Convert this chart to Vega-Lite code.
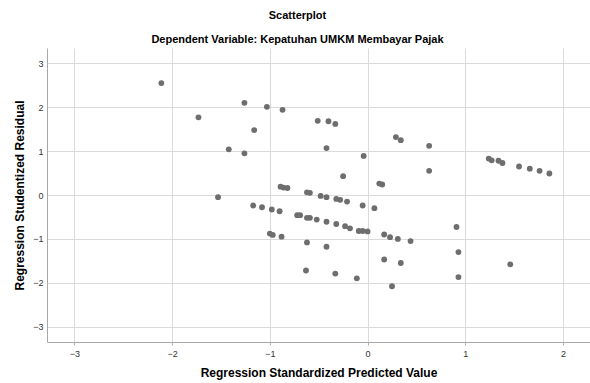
{
  "$schema": "https://vega.github.io/schema/vega-lite/v6.json",
  "autosize": {"type": "none"},
  "width": 543,
  "height": 294,
  "padding": {"left": 47, "top": 48, "right": 0, "bottom": 41},
  "background": "white",
  "title": {
    "text": "Scatterplot",
    "subtitle": "Dependent Variable: Kepatuhan UMKM Membayar Pajak",
    "font": "Liberation Sans",
    "fontSize": 11,
    "fontWeight": "bold",
    "subtitleFont": "Liberation Sans",
    "subtitleFontSize": 11,
    "subtitleFontWeight": "bold",
    "subtitleColor": "black",
    "color": "black",
    "subtitlePadding": 13,
    "offset": 3,
    "anchor": "middle",
    "dx": -21
  },
  "data": {
    "values": [
      {"pred": -2.11, "resid": 2.55},
      {"pred": -1.73, "resid": 1.77},
      {"pred": -1.42, "resid": 1.04},
      {"pred": -1.53, "resid": -0.05},
      {"pred": -1.26, "resid": 2.10},
      {"pred": -1.03, "resid": 2.01},
      {"pred": -0.87, "resid": 1.94},
      {"pred": -0.51, "resid": 1.69},
      {"pred": -0.40, "resid": 1.68},
      {"pred": -0.33, "resid": 1.62},
      {"pred": -1.16, "resid": 1.48},
      {"pred": -1.26, "resid": 0.95},
      {"pred": -0.42, "resid": 1.07},
      {"pred": -0.04, "resid": 0.89},
      {"pred": 0.29, "resid": 1.32},
      {"pred": 0.34, "resid": 1.25},
      {"pred": 0.63, "resid": 1.12},
      {"pred": 0.63, "resid": 0.55},
      {"pred": -0.25, "resid": 0.43},
      {"pred": 0.12, "resid": 0.26},
      {"pred": 0.15, "resid": 0.24},
      {"pred": -0.89, "resid": 0.19},
      {"pred": -0.86, "resid": 0.17},
      {"pred": -0.82, "resid": 0.16},
      {"pred": -0.62, "resid": 0.06},
      {"pred": -0.59, "resid": 0.05},
      {"pred": -0.48, "resid": -0.02},
      {"pred": -0.42, "resid": -0.05},
      {"pred": -0.32, "resid": -0.09},
      {"pred": -0.28, "resid": -0.11},
      {"pred": -0.21, "resid": -0.15},
      {"pred": -0.05, "resid": -0.24},
      {"pred": 0.07, "resid": -0.30},
      {"pred": -1.17, "resid": -0.24},
      {"pred": -1.08, "resid": -0.28},
      {"pred": -0.98, "resid": -0.33},
      {"pred": -0.90, "resid": -0.37},
      {"pred": -0.72, "resid": -0.46},
      {"pred": -0.69, "resid": -0.46},
      {"pred": -0.62, "resid": -0.52},
      {"pred": -0.59, "resid": -0.52},
      {"pred": -0.52, "resid": -0.56},
      {"pred": -0.42, "resid": -0.61},
      {"pred": -0.32, "resid": -0.66},
      {"pred": -0.23, "resid": -0.71},
      {"pred": -0.18, "resid": -0.76},
      {"pred": -0.09, "resid": -0.82},
      {"pred": -0.05, "resid": -0.82},
      {"pred": 0.00, "resid": -0.83},
      {"pred": 0.17, "resid": -0.90},
      {"pred": 0.23, "resid": -0.96},
      {"pred": 0.31, "resid": -1.00},
      {"pred": 0.44, "resid": -1.05},
      {"pred": -1.00, "resid": -0.88},
      {"pred": -0.97, "resid": -0.91},
      {"pred": -0.88, "resid": -0.95},
      {"pred": -0.62, "resid": -1.08},
      {"pred": -0.42, "resid": -1.18},
      {"pred": 0.17, "resid": -1.47},
      {"pred": 0.34, "resid": -1.55},
      {"pred": -0.63, "resid": -1.72},
      {"pred": -0.33, "resid": -1.79},
      {"pred": -0.11, "resid": -1.90},
      {"pred": 0.25, "resid": -2.08},
      {"pred": 1.24, "resid": 0.83},
      {"pred": 1.27, "resid": 0.79},
      {"pred": 1.34, "resid": 0.78},
      {"pred": 1.38, "resid": 0.73},
      {"pred": 1.55, "resid": 0.65},
      {"pred": 1.66, "resid": 0.60},
      {"pred": 1.76, "resid": 0.55},
      {"pred": 1.86, "resid": 0.49},
      {"pred": 0.91, "resid": -0.73},
      {"pred": 0.93, "resid": -1.30},
      {"pred": 0.93, "resid": -1.87},
      {"pred": 1.46, "resid": -1.58}
    ]
  },
  "mark": {"type": "point", "filled": true, "color": "#6e6e6e", "opacity": 1, "size": 34, "clip": true},
  "encoding": {
    "x": {
      "field": "pred",
      "type": "quantitative",
      "scale": {"domain": [-3.28, 2.276], "nice": false, "zero": false},
      "axis": {
        "title": "Regression Standardized Predicted Value",
        "values": [-3, -2, -1, 0, 1, 2],
        "format": "d",
        "titleFont": "Liberation Sans",
        "titleFontSize": 12,
        "titleFontWeight": "bold",
        "titleColor": "black",
        "titlePadding": 9,
        "labelFont": "Liberation Sans",
        "labelFontSize": 9,
        "labelColor": "#333333",
        "labelPadding": 4,
        "tickSize": 3,
        "tickColor": "#b0b0b0",
        "domainColor": "#a8a8a8",
        "gridColor": "#dadada",
        "grid": true
      }
    },
    "y": {
      "field": "resid",
      "type": "quantitative",
      "scale": {"domain": [-3.35, 3.35], "nice": false, "zero": false},
      "axis": {
        "title": "Regression Studentized Residual",
        "values": [-3, -2, -1, 0, 1, 2, 3],
        "format": "d",
        "titleFont": "Liberation Sans",
        "titleFontSize": 12,
        "titleFontWeight": "bold",
        "titleColor": "black",
        "titlePadding": 6,
        "labelFont": "Liberation Sans",
        "labelFontSize": 9,
        "labelColor": "#333333",
        "labelPadding": 4,
        "tickSize": 0,
        "domainColor": "#a8a8a8",
        "gridColor": "#dadada",
        "grid": true
      }
    }
  },
  "config": {"view": {"stroke": null}}
}
